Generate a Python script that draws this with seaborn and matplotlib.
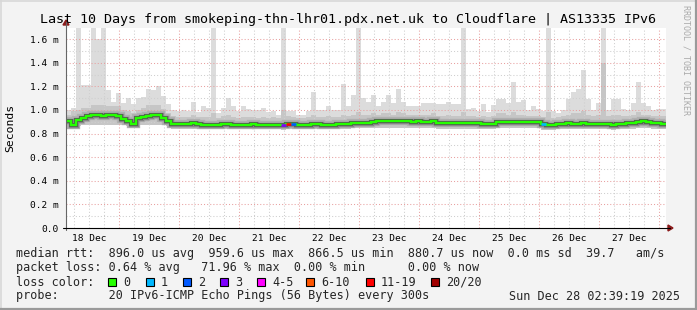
import numpy as np
import pandas as pd
import matplotlib
matplotlib.use("Agg")
import matplotlib.pyplot as plt
from matplotlib.lines import Line2D
from matplotlib.patches import Polygon, Rectangle
import seaborn as sns

# ---------------- data ----------------
title = "Last 10 Days from smokeping-thn-lhr01.pdx.net.uk to Cloudflare | AS13335 IPv6"
start_time = pd.Timestamp("2025-12-18 02:39:19")
span_hours = 240
bin_hours = 2
day_labels = ["18 Dec", "19 Dec", "20 Dec", "21 Dec", "22 Dec",
              "23 Dec", "24 Dec", "25 Dec", "26 Dec", "27 Dec"]
y_ticks_ms = [0.0, 0.2, 0.4, 0.6, 0.8, 1.0, 1.2, 1.4, 1.6]
y_tick_labels = ["0.0", "0.2 m", "0.4 m", "0.6 m", "0.8 m", "1.0 m", "1.2 m", "1.4 m", "1.6 m"]

median_ms = [
    0.905, 0.875, 0.915, 0.935, 0.945, 0.955, 0.955, 0.950, 0.955, 0.955,
    0.945, 0.925, 0.910, 0.885, 0.930, 0.940, 0.950, 0.955, 0.955, 0.935,
    0.910, 0.885, 0.880, 0.880, 0.880, 0.890, 0.880, 0.875, 0.875, 0.875,
    0.875, 0.885, 0.880, 0.875, 0.870, 0.870, 0.875, 0.880, 0.875, 0.875,
    0.875, 0.875, 0.875, 0.870, 0.885, 0.885, 0.875, 0.870, 0.870, 0.885,
    0.880, 0.875, 0.875, 0.875, 0.880, 0.880, 0.885, 0.890, 0.890, 0.890,
    0.890, 0.900, 0.907, 0.905, 0.910, 0.907, 0.905, 0.910, 0.905, 0.900,
    0.905, 0.900, 0.900, 0.910, 0.890, 0.890, 0.890, 0.888, 0.890, 0.890,
    0.890, 0.892, 0.890, 0.880, 0.880, 0.880, 0.895, 0.900, 0.900, 0.898,
    0.900, 0.895, 0.898, 0.900, 0.895, 0.880, 0.872, 0.870, 0.885, 0.885,
    0.887, 0.885, 0.885, 0.888, 0.885, 0.885, 0.885, 0.880, 0.878, 0.870,
    0.885, 0.885, 0.888, 0.890, 0.900, 0.905, 0.900, 0.890, 0.888, 0.885,
]
smoke_min_ms = [
    0.860, 0.840, 0.860, 0.870, 0.870, 0.870, 0.870, 0.870, 0.870, 0.870,
    0.870, 0.870, 0.860, 0.845, 0.870, 0.870, 0.870, 0.870, 0.870, 0.870,
    0.860, 0.840, 0.840, 0.840, 0.840, 0.840, 0.840, 0.840, 0.840, 0.840,
    0.840, 0.840, 0.840, 0.840, 0.835, 0.835, 0.840, 0.840, 0.840, 0.840,
    0.840, 0.840, 0.840, 0.830, 0.835, 0.835, 0.835, 0.835, 0.835, 0.835,
    0.835, 0.835, 0.835, 0.835, 0.835, 0.835, 0.840, 0.845, 0.845, 0.845,
    0.845, 0.850, 0.850, 0.850, 0.850, 0.850, 0.850, 0.850, 0.850, 0.850,
    0.850, 0.850, 0.850, 0.850, 0.840, 0.840, 0.840, 0.840, 0.840, 0.840,
    0.840, 0.840, 0.840, 0.835, 0.835, 0.835, 0.845, 0.850, 0.850, 0.850,
    0.850, 0.845, 0.845, 0.850, 0.845, 0.830, 0.830, 0.830, 0.840, 0.840,
    0.840, 0.840, 0.840, 0.840, 0.840, 0.840, 0.840, 0.835, 0.835, 0.830,
    0.840, 0.840, 0.840, 0.840, 0.850, 0.850, 0.850, 0.840, 0.840, 0.840,
]
smoke_mid_ms = [
    0.96, 0.99, 1.00, 1.02, 1.02, 1.04, 1.04, 1.04, 1.03, 1.03,
    1.03, 1.00, 0.99, 0.97, 1.00, 1.02, 1.04, 1.04, 1.04, 1.01,
    0.97, 0.95, 0.94, 0.94, 0.94, 0.96, 0.94, 0.94, 0.94, 0.97,
    0.93, 0.95, 0.96, 0.94, 0.93, 0.94, 0.94, 0.94, 0.93, 0.94,
    0.93, 0.94, 0.93, 1.00, 0.95, 0.94, 0.93, 0.93, 0.94, 0.96,
    0.94, 0.94, 0.95, 0.94, 0.94, 0.96, 0.95, 0.96, 0.98, 0.96,
    0.96, 0.97, 0.96, 0.97, 0.97, 0.96, 0.98, 0.97, 0.96, 0.96,
    0.96, 0.96, 0.96, 0.97, 0.95, 0.95, 0.96, 0.95, 0.95, 0.98,
    0.95, 0.95, 0.94, 0.95, 0.94, 0.95, 0.97, 0.97, 0.96, 0.98,
    0.96, 0.96, 0.95, 0.95, 0.95, 0.94, 0.98, 0.93, 0.94, 0.95,
    0.96, 0.97, 0.97, 0.99, 0.96, 0.95, 0.96, 1.40, 0.95, 0.96,
    0.96, 0.95, 0.95, 0.96, 0.98, 0.96, 0.96, 0.95, 0.95, 0.95,
]
smoke_max_ms = [
    1.00, 1.02, 1.70, 1.21, 1.21, 1.70, 1.60, 1.70, 1.17, 1.07,
    1.14, 1.06, 1.10, 1.05, 1.10, 1.11, 1.18, 1.17, 1.20, 1.12,
    1.05, 1.00, 0.99, 1.00, 0.99, 1.07, 0.98, 1.03, 1.02, 1.69,
    0.97, 1.02, 1.10, 1.03, 0.99, 1.03, 1.01, 1.00, 1.00, 1.02,
    0.98, 0.99, 0.96, 1.70, 0.99, 0.99, 0.96, 0.96, 0.99, 1.15,
    1.00, 1.00, 1.03, 1.00, 1.00, 1.22, 1.03, 1.13, 1.70, 1.10,
    1.07, 1.13, 1.03, 1.07, 1.13, 1.06, 1.18, 1.07, 1.03, 1.03,
    1.03, 1.06, 1.06, 1.06, 1.05, 1.05, 1.07, 1.05, 1.05, 1.70,
    1.01, 1.02, 0.99, 1.05, 0.98, 1.04, 1.09, 1.09, 1.06, 1.24,
    1.07, 1.08, 1.00, 1.03, 1.01, 0.99, 1.70, 0.99, 0.97, 1.00,
    1.09, 1.15, 1.18, 1.34, 1.09, 1.00, 1.06, 1.70, 1.00, 1.09,
    1.09, 1.01, 1.00, 1.06, 1.24, 1.06, 1.03, 1.00, 1.01, 1.01,
]
lost_pings = [0] * 120
lost_pings[43] = 3
lost_pings[44] = 12
lost_pings[45] = 2
lost_pings[95] = 1

loss_labels = ["0", "1", "2", "3", "4-5", "6-10", "11-19", "20/20"]
loss_upper = [0, 1, 2, 3, 5, 10, 19, 20]
loss_colors = ["#26ff00", "#00b8ff", "#0059ff", "#7e00ff",
               "#ff00ff", "#ff5500", "#ff0000", "#a10000"]

stats_rtt = "median rtt:  896.0 us avg  959.6 us max  866.5 us min  880.7 us now  0.0 ms sd  39.7   am/s"
stats_loss = "packet loss: 0.64 % avg   71.96 % max  0.00 % min      0.00 % now"
legend_head = "loss color:"
probe_text = "probe:       20 IPv6-ICMP Echo Pings (56 Bytes) every 300s"
stamp_text = "Sun Dec 28 02:39:19 2025"
credit_text = "RRDTOOL / TOBI OETIKER"

# ---------------- layout ----------------
W, H = 697, 310
PL, PR, PT, PB = 66, 666, 28, 228
legend_box_x = [108, 146, 183, 220, 257, 306, 366, 431]

sns.set_theme(style="white")
plt.rcParams['font.family'] = ['DejaVu Sans Mono', 'DejaVu Sans']

fig = plt.figure(figsize=(W / 100, H / 100), dpi=100, facecolor="#f3f3f3")


def fx(x):
    return x / W


def fy(y):
    return 1 - y / H


ax = fig.add_axes([fx(PL), fy(PB), (PR - PL) / W, (PB - PT) / H])
ax.set_facecolor("white")
ax.set_xlim(0, span_hours)
ax.set_ylim(0, 1.694)

n = len(median_ms)
edges = np.arange(n + 1) * bin_hours


def ext(v):
    v = np.asarray(v, dtype=float)
    return np.append(v, v[-1])


# smoke
ax.fill_between(edges, ext(smoke_min_ms), ext(smoke_max_ms), step="post",
                color="#dcdcdc", lw=0, zorder=1)
ax.fill_between(edges, ext(smoke_min_ms), ext(smoke_mid_ms), step="post",
                color="#c6c6c6", lw=0, zorder=1.1)

# grid
first_midnight = (start_time.normalize() + pd.Timedelta(days=1) - start_time).total_seconds() / 3600
for k in range(-1, 41):
    h = first_midnight + 6 * (k - 3)
    if 0 < h < span_hours:
        major = abs(((h - first_midnight) / 24) - round((h - first_midnight) / 24)) < 1e-6
        ax.axvline(h, color="#e8a0a0" if major else "#cfcfcf", lw=0.75,
                   ls=(0, (1, 2)), zorder=2)
for j in range(1, 17):
    v = j / 10
    ax.axhline(v, color="#e8a0a0" if j % 2 == 0 else "#cfcfcf", lw=0.75,
               ls=(0, (1, 2)), zorder=2)

# median with dark smoke core
df = pd.DataFrame({"hour": edges, "median": ext(median_ms)})
for lw, col in [(6.0, "#b0b0b0"), (3.9, "#858585"), (2.7, "#505050")]:
    sns.lineplot(data=df, x="hour", y="median", drawstyle="steps-post", color=col,
                 lw=lw, ax=ax, zorder=3, solid_joinstyle="miter", solid_capstyle="butt")
sns.lineplot(data=df, x="hour", y="median", drawstyle="steps-post", color=loss_colors[0],
             lw=1.7, ax=ax, zorder=4, solid_joinstyle="miter", solid_capstyle="butt")
for i, lp in enumerate(lost_pings):
    if lp > 0:
        ci = next(k for k, u in enumerate(loss_upper) if lp <= u)
        ax.hlines(median_ms[i], edges[i], edges[i + 1], color=loss_colors[ci], lw=1.9, zorder=5)

# ticks
noon_hours = [first_midnight - 12 + 24 * k for k in range(len(day_labels))]
ax.set_xticks(noon_hours)
ax.set_xticklabels(day_labels, fontsize=6.8)
ax.set_xticks([first_midnight + 24 * k for k in range(10) if first_midnight + 24 * k < span_hours], minor=True)
ax.set_yticks(y_ticks_ms)
ax.set_yticklabels(y_tick_labels, fontsize=6.8)
ax.set_yticks([j / 10 for j in range(1, 17, 2)], minor=True)
ax.tick_params(axis="x", which="major", length=0, pad=4.5, colors="black")
ax.tick_params(axis="x", which="minor", length=2, width=0.7, color="#555555", direction="out")
ax.tick_params(axis="y", which="both", length=2, width=0.7, color="#555555", pad=3.5, labelcolor="black")
ax.set_xlabel("")
ax.set_ylabel("")
for s in ax.spines.values():
    s.set_visible(False)

# axes lines and arrows
fig.add_artist(Line2D([fx(PL), fx(PL)], [fy(PB + 2), fy(PT - 6)], color="#666666", lw=0.8))
fig.add_artist(Line2D([fx(PL - 3), fx(PR + 4)], [fy(PB), fy(PB)], color="black", lw=0.8))
fig.add_artist(Polygon([[fx(PL - 3), fy(PT - 3)], [fx(PL + 3), fy(PT - 3)], [fx(PL), fy(PT - 8)]],
                       closed=True, color="#8b1a1a", transform=fig.transFigure))
fig.add_artist(Polygon([[fx(PR + 2), fy(PB - 3)], [fx(PR + 2), fy(PB + 3)], [fx(PR + 7), fy(PB)]],
                       closed=True, color="#8b1a1a", transform=fig.transFigure))

# frame
fig.add_artist(Line2D([0, 1], [fy(0.5), fy(0.5)], color="#d8d8d8", lw=1.2))
fig.add_artist(Line2D([fx(0.5), fx(0.5)], [0, 1], color="#d8d8d8", lw=1.2))
fig.add_artist(Line2D([0, 1], [fy(H - 1), fy(H - 1)], color="#9a9a9a", lw=1.6))
fig.add_artist(Line2D([fx(W - 1), fx(W - 1)], [0, 1], color="#9a9a9a", lw=1.6))

# texts
fig.text(fx(348.5), fy(19), title, ha="center", va="center", fontsize=9.6, color="black")
fig.text(fx(10), fy((PT + PB) / 2), "Seconds", rotation=90, ha="center", va="center",
         fontsize=8.2, color="black")
fig.text(fx(686), fy(5), credit_text, rotation=270, ha="center", va="top",
         fontsize=6.0, color="#aaaaaa")

LFS = 8.45
fig.text(fx(16), fy(254), stats_rtt, ha="left", va="center", fontsize=LFS)
fig.text(fx(16), fy(268), stats_loss, ha="left", va="center", fontsize=LFS)
fig.text(fx(16), fy(282), legend_head, ha="left", va="center", fontsize=LFS)
for bx, lab, col in zip(legend_box_x, loss_labels, loss_colors):
    fig.add_artist(Rectangle((fx(bx), fy(286)), 8 / W, 8 / H, facecolor=col,
                             edgecolor="black", lw=0.8, transform=fig.transFigure))
    fig.text(fx(bx + 15), fy(282), lab, ha="left", va="center", fontsize=LFS)
fig.text(fx(16), fy(296), probe_text, ha="left", va="center", fontsize=LFS)
fig.text(fx(680), fy(296), stamp_text, ha="right", va="center", fontsize=LFS)

fig.savefig("out.png", dpi=100, facecolor=fig.get_facecolor())
